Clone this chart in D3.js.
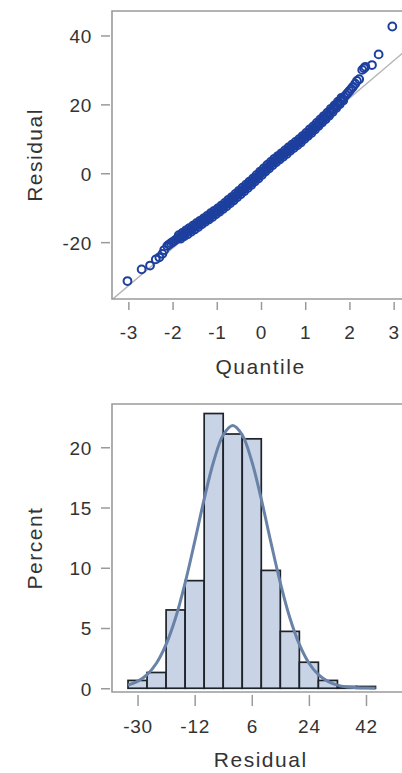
<!DOCTYPE html>
<html><head><meta charset="utf-8">
<script src="https://cdn.jsdelivr.net/npm/d3@7"></script>
<style>body{margin:0;background:#fff}svg{display:block}</style>
</head><body>
<svg id="c" width="402" height="773"></svg>
<script>
// ---- Q-Q plot data (normal quantile, residual) ----
const qqTicksX = [-3, -2, -1, 0, 1, 2, 3];
const qqTicksY = [-20, 0, 20, 40];
const qqQuantile = [
  -3.02,-2.70,-2.51,-2.38,-2.30,-2.23,-2.19,-2.12,
  -2.08,-2.04,-2.00,-1.96,-1.92,-1.88,-1.84,-1.80,-1.76,-1.72,
  -1.68,-1.64,-1.60,-1.56,-1.52,-1.48,-1.44,-1.40,-1.36,-1.32,
  -1.28,-1.24,-1.20,-1.16,-1.12,-1.08,-1.04,-1.00,-0.96,-0.92,
  -0.88,-0.84,-0.80,-0.76,-0.72,-0.68,-0.64,-0.60,-0.56,-0.52,
  -0.48,-0.44,-0.40,-0.36,-0.32,-0.28,-0.24,-0.20,-0.16,-0.12,
  -0.08,-0.04,0.00,0.04,0.08,0.12,0.16,0.20,0.24,0.28,
  0.32,0.36,0.40,0.44,0.48,0.52,0.56,0.60,0.64,0.68,
  0.72,0.76,0.80,0.84,0.88,0.92,0.96,1.00,1.04,1.08,
  1.12,1.16,1.20,1.24,1.28,1.32,1.36,1.40,1.44,1.48,
  1.52,1.56,1.60,1.64,1.68,1.72,1.76,1.80,1.84,1.88,
  1.92,1.96,2.00,2.04,2.08,
  2.13,2.17,2.22,2.29,2.33,2.36,2.51,2.66,2.97
];
const qqResidual = [
  -31.3,-27.9,-26.8,-25.0,-24.4,-23.4,-22.3,-21.1,
  -20.7,-20.3,-20.0,-19.6,-19.2,-18.9,-18.5,-18.1,-17.8,-17.4,
  -17.1,-16.8,-16.4,-16.1,-15.7,-15.4,-15.0,-14.7,-14.3,-13.9,
  -13.6,-13.2,-12.9,-12.5,-12.1,-11.8,-11.4,-11.0,-10.7,-10.3,
  -9.9,-9.5,-9.1,-8.6,-8.2,-7.8,-7.4,-6.9,-6.5,-6.0,
  -5.6,-5.1,-4.7,-4.2,-3.8,-3.3,-2.9,-2.4,-1.9,-1.4,
  -1.0,-0.5,0.0,0.5,0.9,1.4,1.9,2.3,2.8,3.2,
  3.7,4.1,4.5,4.9,5.3,5.7,6.1,6.5,7.0,7.4,
  7.8,8.2,8.6,9.0,9.4,9.8,10.3,10.8,11.2,11.7,
  12.2,12.6,13.1,13.6,14.1,14.6,15.1,15.6,16.1,16.6,
  17.1,17.7,18.2,18.7,19.3,19.8,20.4,20.9,21.5,22.1,
  22.7,23.3,23.9,24.5,25.1,
  26.0,26.8,27.3,30.0,30.5,30.9,31.4,34.5,42.6
];
// overplotted points in the dense middle of the band
const qqDenseQuantile = [
  -1.86,-1.82,-1.78,-1.74,-1.70,-1.66,-1.62,-1.58,-1.54,-1.50,
  -1.46,-1.42,-1.38,-1.34,-1.30,-1.26,-1.22,-1.18,-1.14,-1.10,
  -1.06,-1.02,-0.98,-0.94,-0.90,-0.86,-0.82,-0.78,-0.74,-0.70,
  -0.66,-0.62,-0.58,-0.54,-0.50,-0.46,-0.42,-0.38,-0.34,-0.30,
  -0.26,-0.22,-0.18,-0.14,-0.10,-0.06,-0.02,0.02,0.06,0.10,
  0.14,0.18,0.22,0.26,0.30,0.34,0.38,0.42,0.46,0.50,
  0.54,0.58,0.62,0.66,0.70,0.74,0.78,0.82,0.86,0.90,
  0.94,0.98,1.02,1.06,1.10,1.14,1.18,1.22,1.26,1.30,
  1.34,1.38,1.42,1.46,1.50,1.54,1.58,1.62,1.66,1.70,
  1.74,1.78,1.82,1.86
];
const qqDenseResidual = [
  -18.0,-19.0,-17.3,-18.3,-16.6,-17.7,-15.9,-17.0,-15.2,-16.3,
  -14.5,-15.6,-13.8,-14.8,-13.1,-14.1,-12.4,-13.4,-11.6,-12.7,
  -10.9,-11.9,-10.2,-11.2,-9.4,-10.4,-8.6,-9.6,-7.7,-8.7,
  -6.9,-7.9,-6.0,-7.0,-5.1,-6.1,-4.2,-5.2,-3.3,-4.3,
  -2.4,-3.4,-1.5,-2.4,-0.5,-1.5,0.5,-0.5,1.4,0.5,
  2.4,1.4,3.3,2.3,4.2,3.2,5.0,4.0,5.8,4.8,
  6.6,5.6,7.5,6.5,8.3,7.3,9.1,8.1,9.9,8.9,
  10.8,9.9,11.7,10.8,12.7,11.7,13.6,12.7,14.6,13.7,
  15.6,14.7,16.6,15.7,17.6,16.7,18.7,17.8,19.7,18.9,
  20.8,20.0,21.9,21.1
];
const refLineQuantile = [-3.6, 3.6];
const refLineResidual = [-39.2, 39.2];

// ---- Histogram data ----
const histTicksX = [-30, -12, 6, 24, 42];
const histTicksY = [0, 5, 10, 15, 20];
const binLower = [-33,-27,-21,-15,-9,-3,3,9,15,21,27,33,39];
const binUpper = [-27,-21,-15,-9,-3,3,9,15,21,27,33,39,45];
const binPercent = [0.65,1.31,6.5,8.93,22.8,21.1,20.7,9.78,4.72,2.16,0.65,0.15,0.15];
const curveResidual = [-33,-30,-27,-24,-21,-18,-15,-12,-9,-6,-3,0,3,6,9,12,15,18,21,24,27,30,33,36,39,42,45];
const curvePercent  = [0.26,0.57,1.13,2.10,3.64,5.85,8.75,12.15,15.69,18.84,21.02,21.8,21.02,18.84,15.69,12.15,8.75,5.85,3.64,2.10,1.13,0.57,0.26,0.11,0.05,0.02,0.01];

const svg = d3.select('#c');
const FONT = '"Liberation Sans", Arial, sans-serif';
const TXT = '#333';
const FRAME = '#9a9a9a';
const fmt = d => String(d);

function frame(g, L, T, R, B) {
  g.append('path')
    .attr('d', `M${R},${T}H${L}V${B}H${R}`)
    .attr('fill', 'none').attr('stroke', FRAME).attr('stroke-width', 1.6);
}
function styleAxis(ax) {
  ax.select('.domain').remove();
  ax.selectAll('.tick line').attr('stroke', FRAME).attr('stroke-width', 1.5);
  ax.selectAll('.tick text').attr('fill', TXT).style('font-family', FONT)
    .style('font-size', '19px').style('letter-spacing', '0.7px');
}

// ===== Top: Q-Q plot =====
{
  const L = 112, T = 11, R = 404.7, B = 299;
  const x = d3.scaleLinear().domain([-3.37, 3.25]).range([L, R]);
  const y = d3.scaleLinear().domain([-36.5, 47.1]).range([B, T]);
  const g = svg.append('g');
  g.append('clipPath').attr('id', 'qqclip').append('rect')
    .attr('x', L).attr('y', T).attr('width', R - L).attr('height', B - T);
  g.append('line').attr('clip-path', 'url(#qqclip)')
    .attr('x1', x(refLineQuantile[0])).attr('y1', y(refLineResidual[0]))
    .attr('x2', x(refLineQuantile[1])).attr('y2', y(refLineResidual[1]))
    .attr('stroke', '#b4b4b4').attr('stroke-width', 1.5);
  const pts = qqQuantile.map((q, i) => [q, qqResidual[i]])
    .concat(qqDenseQuantile.map((q, i) => [q, qqDenseResidual[i]]));
  g.append('g').selectAll('circle').data(pts).join('circle')
    .attr('cx', d => x(d[0])).attr('cy', d => y(d[1]))
    .attr('r', 3.9).attr('fill', 'none').attr('stroke', '#1d3f9e').attr('stroke-width', 2);
  frame(g, L, T, R + 2, B);
  const ax = g.append('g').attr('transform', `translate(0,${B + 3})`)
    .call(d3.axisBottom(x).tickValues(qqTicksX).tickSize(8).tickSizeOuter(0).tickFormat(fmt));
  styleAxis(ax);
  ax.selectAll('.tick text').attr('y', 0).attr('dy', null).attr('transform', `translate(0,${338.5 - B - 3})`);
  const ay = g.append('g').attr('transform', `translate(${L - 2},0)`)
    .call(d3.axisLeft(y).tickValues(qqTicksY).tickSize(9).tickSizeOuter(0).tickFormat(fmt));
  styleAxis(ay);
  ay.selectAll('.tick text').attr('x', -18).attr('dy', '0.36em');
  g.append('text').text('Quantile').attr('x', 260.5).attr('y', 374)
    .attr('text-anchor', 'middle').attr('fill', TXT)
    .style('font-family', FONT).style('font-size', '21px').style('letter-spacing', '1.5px');
  g.append('text').text('Residual').attr('transform', `translate(41.5,${(T + B) / 2}) rotate(-90)`)
    .attr('text-anchor', 'middle').attr('fill', TXT)
    .style('font-family', FONT).style('font-size', '21px').style('letter-spacing', '1.5px');
}

// ===== Bottom: histogram =====
{
  const L = 112, T = 404, R = 404.7, B = 692;
  const x = d3.scaleLinear().domain([-38.05, 54.2]).range([L, R]);
  const y = d3.scaleLinear().domain([-0.31, 23.59]).range([B, T]);
  const g = svg.append('g');
  g.append('g').selectAll('rect').data(binPercent).join('rect')
    .attr('x', (d, i) => x(binLower[i])).attr('width', (d, i) => x(binUpper[i]) - x(binLower[i]))
    .attr('y', d => y(d)).attr('height', d => y(0) - y(d))
    .attr('fill', '#c8d4e6').attr('stroke', '#1e2229').attr('stroke-width', 1.7);
  const line = d3.line().x((d, i) => x(curveResidual[i])).y(d => y(d)).curve(d3.curveCatmullRom);
  g.append('path').datum(curvePercent).attr('d', line)
    .attr('fill', 'none').attr('stroke', '#6983a8').attr('stroke-width', 3).attr('stroke-linejoin', 'round');
  frame(g, L, T, R + 2, B);
  const ax = g.append('g').attr('transform', `translate(0,${B + 3})`)
    .call(d3.axisBottom(x).tickValues(histTicksX).tickSize(11).tickSizeOuter(0).tickFormat(fmt));
  styleAxis(ax);
  ax.selectAll('.tick text').attr('y', 0).attr('dy', null).attr('transform', `translate(0,${732.8 - B - 3})`);
  const ay = g.append('g').attr('transform', `translate(${L - 2},0)`)
    .call(d3.axisLeft(y).tickValues(histTicksY).tickSize(9).tickSizeOuter(0).tickFormat(fmt));
  styleAxis(ay);
  ay.selectAll('.tick text').attr('x', -18).attr('dy', '0.36em');
  g.append('text').text('Residual').attr('x', 260.7).attr('y', 766.5)
    .attr('text-anchor', 'middle').attr('fill', TXT)
    .style('font-family', FONT).style('font-size', '21px').style('letter-spacing', '1.5px');
  g.append('text').text('Percent').attr('transform', `translate(41.5,${(T + B) / 2}) rotate(-90)`)
    .attr('text-anchor', 'middle').attr('fill', TXT)
    .style('font-family', FONT).style('font-size', '21px').style('letter-spacing', '1.5px');
}
</script>
</body></html>
